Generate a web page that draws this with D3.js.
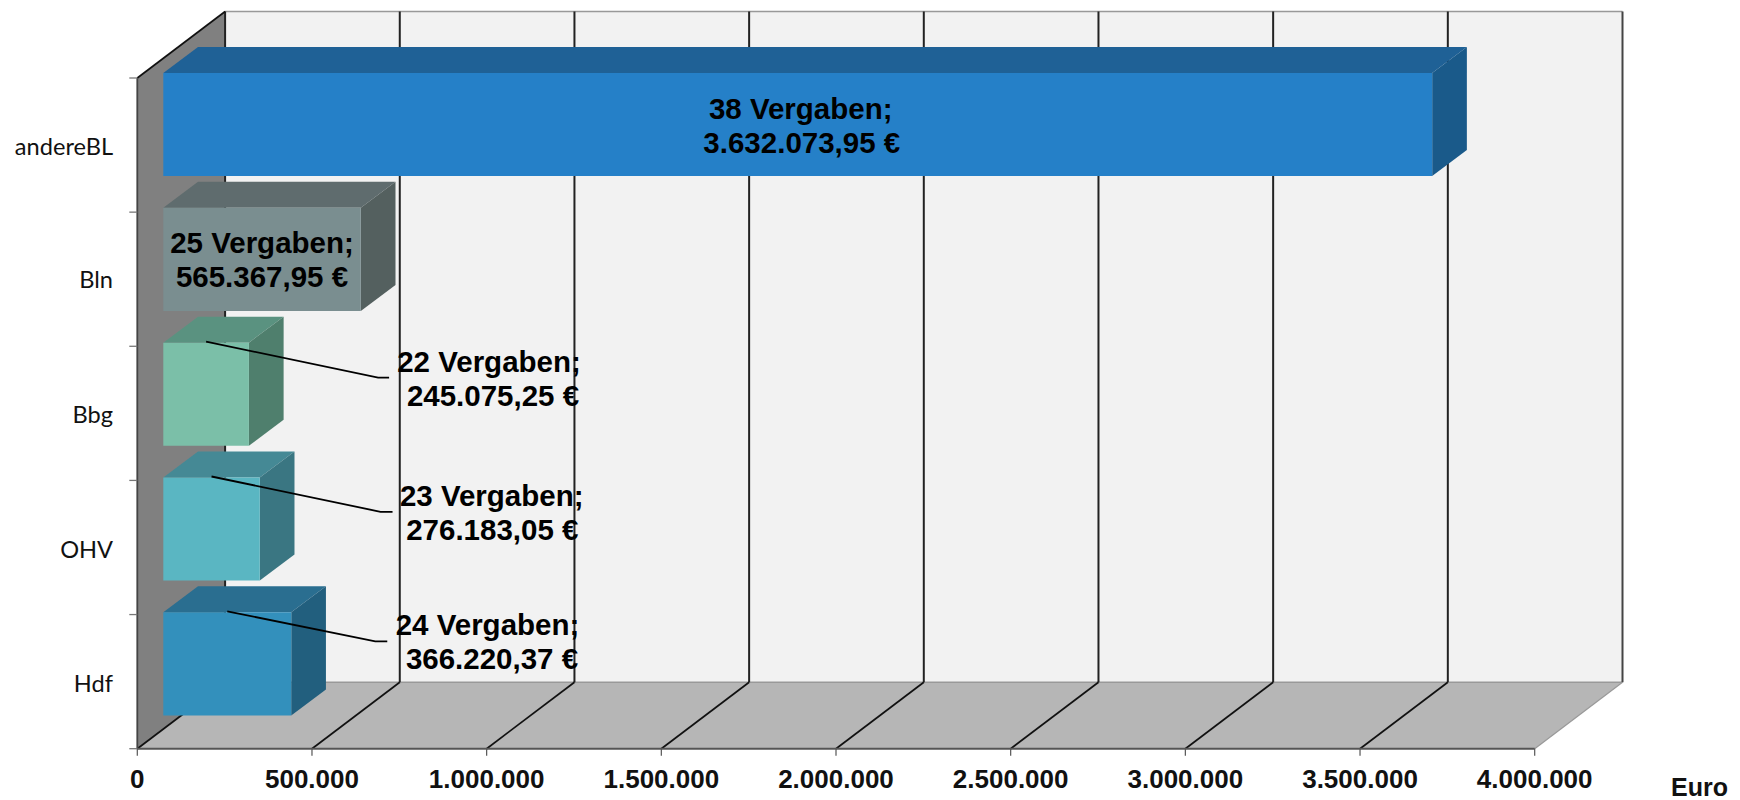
<!DOCTYPE html>
<html><head><meta charset="utf-8">
<script src="https://cdn.jsdelivr.net/npm/d3@7/dist/d3.min.js"></script>
<style>html,body{margin:0;padding:0;background:#fff}svg{display:block}</style>
</head><body><svg id="c" width="1740" height="800"></svg>
<script>
const categories = ["andereBL","Bln","Bbg","OHV","Hdf"];
const values = [3632073.95,565367.95,245075.25,276183.05,366220.37];
const counts = [38,25,22,23,24];
const valueLabels = ["3.632.073,95 €","565.367,95 €","245.075,25 €","276.183,05 €","366.220,37 €"];
const xTicks = [0,500000,1000000,1500000,2000000,2500000,3000000,3500000,4000000];
const xTickLabels = ["0","500.000","1.000.000","1.500.000","2.000.000","2.500.000","3.000.000","3.500.000","4.000.000"];
const frontColors = ["#2580c8","#7a8e90","#7bbfa8","#5ab6c2","#3390bc"];
const topColors = ["#1f6196","#5f6c6e","#5a9280","#458995","#2a6e90"];
const sideColors = ["#1a5a8a","#54605f","#4f7f6d","#3a7682","#225f7e"];

// layout
const x = d3.scaleLinear().domain([0,4000000]).range([137.3,1534.7]);
const yTop = 78, yBot = 748.7;
const DX = 87.8, DY = 66.5;
const gapX = 26, depthX = 34.7, depthY = 26;
const yTicksS = d3.scaleLinear().domain([0,5]).range([yTop,yBot]);
const band = d3.scaleBand().domain(categories).range([73,715.4]).paddingInner(0.2356).paddingOuter(0);
const catLabelY = [155,288,423,558,692];
const labelLayout = [
 {x1:800.7,x2:801.8,y:118.6},
 {x1:262,x2:262,y:253},
 {x1:489,x2:493,y:371.7},
 {x1:491.7,x2:492.3,y:505.7},
 {x1:487.5,x2:492,y:635}];
const leaderLayout = [null,null,{kx:172,ky:35,ex:183},{kx:169,ky:34.3,ex:181},{kx:148,ky:29,ex:160}];

const svg = d3.select("#c");
const poly = (pts,fill) => svg.append("polygon").attr("points",pts.map(d=>d.join(",")).join(" ")).attr("fill",fill);
const line = (a,b,stroke,w) => svg.append("line").attr("x1",a[0]).attr("y1",a[1]).attr("x2",b[0]).attr("y2",b[1]).attr("stroke",stroke).attr("stroke-width",w);

const x0 = x(0), x4 = x(4000000);
// walls
poly([[x0+DX,yTop-DY],[x4+DX,yTop-DY],[x4+DX,yBot-DY],[x0+DX,yBot-DY]],"#f2f2f2");
poly([[x0,yTop],[x0+DX,yTop-DY],[x0+DX,yBot-DY],[x0,yBot]],"#808080");
poly([[x0,yBot],[x4,yBot],[x4+DX,yBot-DY],[x0+DX,yBot-DY]],"#b6b6b6");
line([x0+DX,yTop-DY],[x4+DX,yTop-DY],"#999",1.5);
line([x0+DX,yBot-DY],[x4+DX,yBot-DY],"#999",1.5);

// gridlines
xTicks.forEach((t,i)=>{
  const last = i===xTicks.length-1;
  line([x(t)+DX,yTop-DY],[x(t)+DX,yBot-DY],last?"#444":"#222",2);
  line([x(t)+DX,yBot-DY],[x(t),yBot],last?"#999":"#111",last?1.2:1.7);
});
line([x0,yTop],[x0+DX,yTop-DY],"#111",1.7);

// axes
line([x0,yTop],[x0,yBot],"#444",1.8);
line([x0,yBot],[x4,yBot],"#555",2);
d3.range(6).forEach(i=>line([x0-8,yTicksS(i)],[x0,yTicksS(i)],"#777",1.3));
xTicks.forEach(t=>line([x(t),yBot],[x(t),yBot+7],"#555",1.2));

// bars
categories.forEach((c,i)=>{
  const l=x(0)+gapX, r=x(values[i])+gapX, t=band(c), b=t+band.bandwidth();
  poly([[l,t],[l+depthX,t-depthY],[r+depthX,t-depthY],[r,t]],topColors[i]);
  poly([[r,t],[r+depthX,t-depthY],[r+depthX,b-depthY],[r,b]],sideColors[i]);
  poly([[l,t],[r,t],[r,b],[l,b]],frontColors[i]);
});

// leaders
categories.forEach((c,i)=>{
  const L=leaderLayout[i]; if(!L) return;
  const sx=(x(0)+gapX+x(values[i])+gapX)/2, sy=band(c)-1;
  svg.append("path").attr("d",d3.line()([[sx,sy],[sx+L.kx,band(c)+L.ky],[sx+L.ex,band(c)+L.ky]]))
    .attr("fill","none").attr("stroke","#000").attr("stroke-width",1.8);
});

const bold = "'Liberation Sans',Arial,sans-serif";
// data labels
categories.forEach((c,i)=>{
  const L=labelLayout[i];
  [[counts[i]+" Vergaben;",L.x1,L.y],[valueLabels[i],L.x2,L.y+34.3]].forEach(([s,tx,ty])=>{
    svg.append("text").text(s).attr("x",tx).attr("y",ty).attr("text-anchor","middle")
      .attr("font-family",bold).attr("font-weight","700").attr("font-size",29.5).attr("fill","#000");
  });
});
// category labels
categories.forEach((c,i)=>{
  svg.append("text").text(c).attr("x",113).attr("y",catLabelY[i]).attr("text-anchor","end")
    .attr("font-family","Lato,'Open Sans',sans-serif").attr("font-size",23.6).attr("fill","#111");
});
// tick labels
xTicks.forEach((t,i)=>{
  svg.append("text").text(xTickLabels[i]).attr("x",x(t)).attr("y",788).attr("text-anchor","middle")
    .attr("font-family",bold).attr("font-weight","700").attr("font-size",26).attr("fill","#111");
});
svg.append("text").text("Euro").attr("x",1671).attr("y",796).attr("font-family",bold).attr("font-weight","700").attr("font-size",25).attr("fill","#111");
</script></body></html>
